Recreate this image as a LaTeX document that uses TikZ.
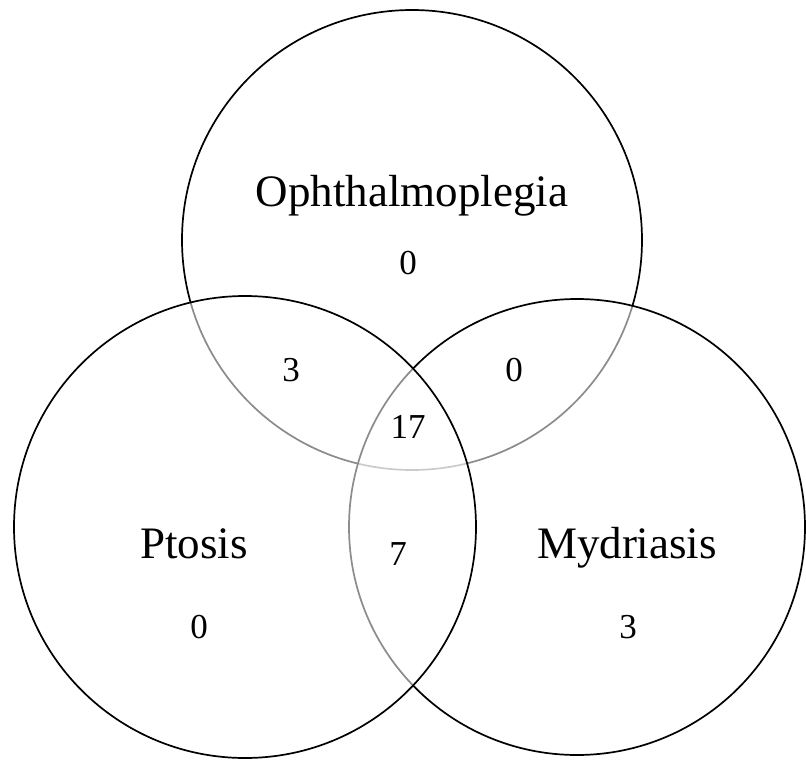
\documentclass[tikz,border=0pt]{standalone}
\usepackage{fontspec}
\setmainfont{Liberation Serif}
\usepackage{tikz}

\begin{document}
\begin{tikzpicture}[x=1pt, y=-1pt,
  set/.style={draw=black, line width=1.7pt, fill=white, fill opacity=0.55},
  setname/.style={font=\fontsize{45}{50}\selectfont, inner sep=0pt, anchor=base},
  count/.style={font=\fontsize{35}{40}\selectfont, inner sep=0pt}]
\fill[white] (0,0) rectangle (806,760);
\useasboundingbox (0,0) rectangle (806,760);
% the three sets, top one first so the later ones shade its lines
\draw[set] (412,240) circle[radius=230pt];
\draw[set] (577,527) circle[radius=228pt];
\draw[set] (245,527) circle[radius=231pt];
% set names
\node[setname] (oph) at (412,206) {Ophthalmoplegia};
\node[setname] (pto) at (194,558) {Ptosis};
\node[setname] (myd) at (627,558) {Mydriasis};
% counts per region
\node[count] (nO)   at (408,263) {0};
\node[count] (nP)   at (199,627) {0};
\node[count] (nM)   at (628,627) {3};
\node[count] (nOP)  at (291,370) {3};
\node[count] (nOM)  at (514,370) {0};
\node[count] (nPM)  at (398,554) {7};
\node[count] (nOPM) at (408,427) {17};
\end{tikzpicture}
\end{document}
